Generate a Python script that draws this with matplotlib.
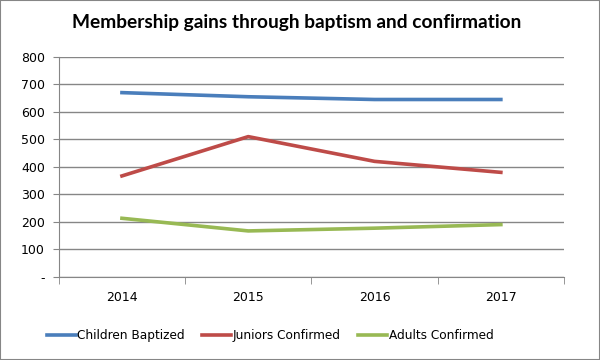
import matplotlib.pyplot as plt
from matplotlib.ticker import FuncFormatter

years = ["2014", "2015", "2016", "2017"]
children_baptized = [670, 655, 645, 645]
juniors_confirmed = [367, 510, 420, 380]
adults_confirmed = [213, 167, 177, 190]

fig = plt.figure(figsize=(6, 3.6), dpi=100)
ax = fig.add_axes([0.098, 0.231, 0.842, 0.611])

x = list(range(len(years)))
ax.plot(x, children_baptized, color="#4a7ebb", lw=2.6, label="Children Baptized")
ax.plot(x, juniors_confirmed, color="#be4b48", lw=2.6, label="Juniors Confirmed")
ax.plot(x, adults_confirmed, color="#98b954", lw=2.6, label="Adults Confirmed")

ax.set_xlim(-0.5, len(years) - 0.5)
ax.set_ylim(0, 800)
ax.set_yticks(range(0, 801, 100))
ax.yaxis.set_major_formatter(FuncFormatter(lambda v, p: "-" if v == 0 else f"{int(v)}"))
ax.set_xticks(x)
ax.set_xticklabels(years)
ax.set_xticks([i - 0.5 for i in range(len(years) + 1)], minor=True)

ax.grid(axis="y", color="#868686", lw=1)
ax.set_axisbelow(True)
for s in ["top", "right"]:
    ax.spines[s].set_visible(False)
for s in ["left", "bottom"]:
    ax.spines[s].set_color("#868686")
ax.tick_params(axis="x", which="major", length=0, pad=10, labelsize=9)
ax.tick_params(axis="x", which="minor", length=5, color="#868686")
ax.tick_params(axis="y", length=4, color="#868686", labelsize=9, pad=6)

ax.set_title("Membership gains through baptism and confirmation",
             fontsize=13.8, fontweight="bold", family="Lato", pad=21, x=0.47)

fig.legend(loc="lower center", bbox_to_anchor=(0.45, 0.02), ncol=3, frameon=False,
           fontsize=8.7, handlelength=2.4, handletextpad=0.15, columnspacing=1.4)

fig.patches.append(plt.Rectangle((0, 0), 1, 1, transform=fig.transFigure,
                                 fill=False, edgecolor="#868686", lw=1.5))

plt.savefig("out.png")
plt.close()
